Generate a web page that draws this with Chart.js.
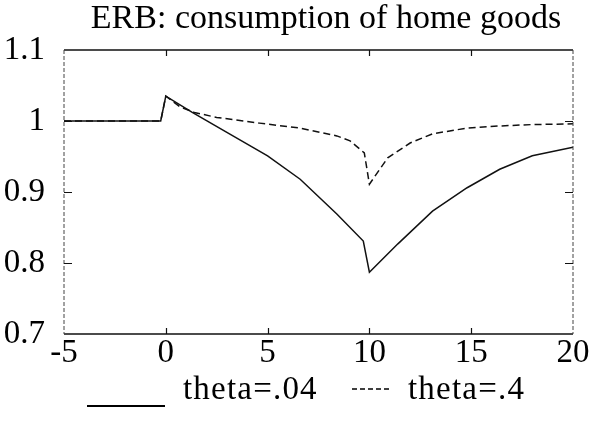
<!DOCTYPE html>
<html>
<head>
<meta charset="utf-8">
<script src="https://cdn.jsdelivr.net/npm/chart.js@4"></script>
<style>
  html, body { margin: 0; padding: 0; background: #fff; }
  #wrap { width: 599px; height: 429px; }
</style>
</head>
<body>
<div id="wrap"><canvas id="erbChart" width="599" height="429"></canvas></div>
<script>
// periods and responses for the two theta values
const tLow = [-5, -0.25, 0, 1.3, 3, 5, 6.6, 8.4, 9.7, 10, 11.4, 13.1, 14.8, 16.4, 18, 20];
const cLow = [1, 1, 1.035, 1.012, 0.984, 0.951, 0.918, 0.869, 0.831, 0.787, 0.827, 0.873, 0.906, 0.932, 0.951, 0.963];

const tHigh = [-5, -0.25, 0, 0.7, 1.4, 2.5, 4.6, 6.6, 8.4, 9.05, 9.75, 10, 10.9, 12, 13.1, 14.8, 16.4, 18, 20];
const cHigh = [1, 1, 1.035, 1.02, 1.012, 1.005, 0.997, 0.99, 0.979, 0.972, 0.955, 0.911, 0.948, 0.969, 0.982, 0.99, 0.993, 0.995, 0.996];

const seriesNames = ['theta=.04', 'theta=.4'];
const xTicks = [-5, 0, 5, 10, 15, 20];
const yTicks = [0.7, 0.8, 0.9, 1, 1.1];
const chartTitle = 'ERB: consumption of home goods';

const serif = '"Liberation Serif", "DejaVu Serif", serif';

const toPoints = (xs, ys) => xs.map((x, i) => ({ x: x, y: ys[i] }));

// title, frame with inward ticks, and the legend under the axis
const decorations = {
  id: 'decorations',
  afterDraw(chart) {
    const ctx = chart.ctx;
    const a = chart.chartArea;
    const xs = chart.scales.x, ys = chart.scales.y;
    ctx.save();

    ctx.fillStyle = '#000';
    ctx.font = '34px ' + serif;
    ctx.textAlign = 'center';
    ctx.textBaseline = 'alphabetic';
    ctx.fillText(chartTitle, 326, 28);

    ctx.strokeStyle = '#111';
    ctx.lineWidth = 1.5;
    ctx.beginPath();
    ctx.moveTo(a.left, a.top); ctx.lineTo(a.right, a.top);
    ctx.moveTo(a.left, a.bottom); ctx.lineTo(a.right, a.bottom);
    ctx.stroke();

    ctx.strokeStyle = '#444';
    ctx.lineWidth = 1;
    ctx.setLineDash([4, 2]);
    ctx.beginPath();
    ctx.moveTo(a.left, a.top); ctx.lineTo(a.left, a.bottom);
    ctx.moveTo(a.right, a.top); ctx.lineTo(a.right, a.bottom);
    ctx.stroke();
    ctx.setLineDash([]);

    ctx.strokeStyle = '#111';
    ctx.lineWidth = 1.2;
    ctx.beginPath();
    xTicks.slice(1, -1).forEach(v => {
      const px = Math.round(xs.getPixelForValue(v)) + 0.5;
      ctx.moveTo(px, a.bottom); ctx.lineTo(px, a.bottom - 6);
      ctx.moveTo(px, a.top); ctx.lineTo(px, a.top + 6);
    });
    yTicks.slice(1, -1).forEach(v => {
      const py = Math.round(ys.getPixelForValue(v)) + 0.5;
      ctx.moveTo(a.left, py); ctx.lineTo(a.left + 8, py);
      ctx.moveTo(a.right, py); ctx.lineTo(a.right - 8, py);
    });
    ctx.stroke();

    // legend
    const ds = chart.data.datasets;
    ctx.font = '33px ' + serif;
    ctx.textAlign = 'left';
    ctx.letterSpacing = '1.2px';
    ctx.strokeStyle = '#000';
    ctx.lineWidth = 2;
    ctx.beginPath();
    ctx.moveTo(87, 406); ctx.lineTo(165, 406);
    ctx.stroke();
    ctx.fillText(ds[0].label, 183, 399);

    ctx.lineWidth = 1.5;
    ctx.setLineDash([5, 3]);
    ctx.beginPath();
    ctx.moveTo(352, 389); ctx.lineTo(392, 389);
    ctx.stroke();
    ctx.setLineDash([]);
    ctx.fillText(ds[1].label, 408, 399);

    ctx.restore();
  }
};

const ctx = document.getElementById('erbChart').getContext('2d');

new Chart(ctx, {
  type: 'line',
  data: {
    datasets: [
      {
        label: seriesNames[0],
        data: toPoints(tLow, cLow),
        borderColor: '#111',
        borderWidth: 1.5,
        pointRadius: 0,
        tension: 0,
        fill: false
      },
      {
        label: seriesNames[1],
        data: toPoints(tHigh, cHigh),
        borderColor: '#111',
        borderWidth: 1.5,
        borderDash: [7, 4],
        pointRadius: 0,
        tension: 0,
        fill: false
      }
    ]
  },
  options: {
    responsive: false,
    animation: false,
    layout: { padding: { top: 50, right: 26, bottom: 55, left: 0 } },
    plugins: {
      legend: { display: false },
      title: { display: false },
      tooltip: { enabled: false }
    },
    scales: {
      x: {
        type: 'linear',
        min: -5,
        max: 20,
        afterFit: s => { s.height = 40; },
        afterBuildTicks: s => { s.ticks = xTicks.map(v => ({ value: v })); },
        grid: { display: false },
        border: { display: false },
        ticks: { color: '#000', padding: -8, font: { family: serif, size: 33 } }
      },
      y: {
        min: 0.7,
        max: 1.1,
        afterFit: s => { s.width = 64; },
        afterBuildTicks: s => { s.ticks = yTicks.map(v => ({ value: v })); },
        grid: { display: false },
        border: { display: false },
        ticks: {
          color: '#000',
          padding: 11,
          font: { family: serif, size: 33 },
          callback: v => String(Math.round(v * 10) / 10)
        }
      }
    }
  },
  plugins: [decorations]
});
</script>
</body>
</html>
